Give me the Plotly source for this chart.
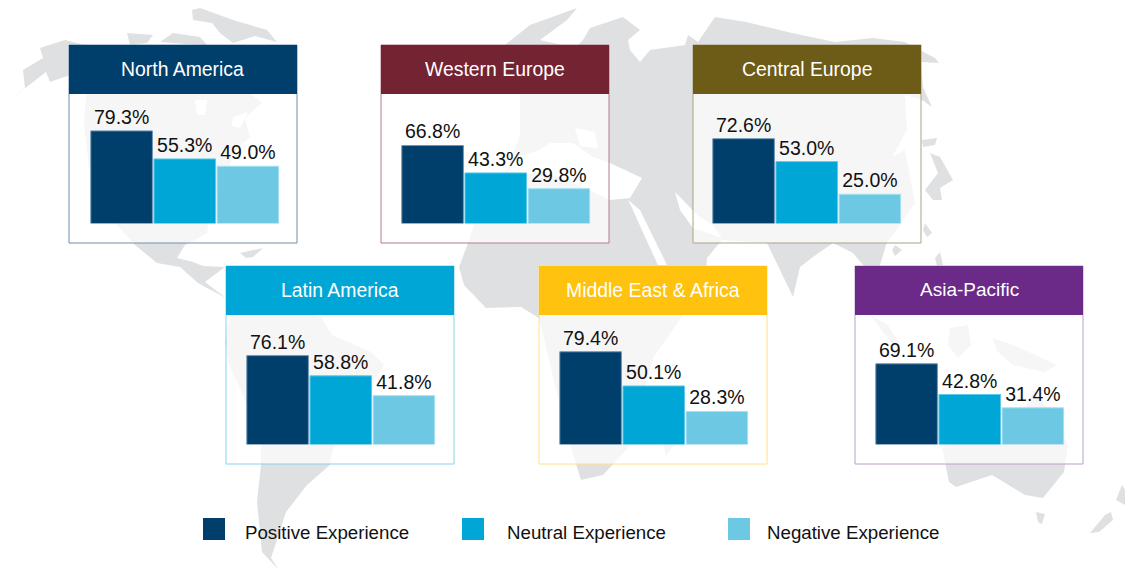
import plotly.graph_objects as go

# ---- chart data ----
regions = ["North America", "Western Europe", "Central Europe",
           "Latin America", "Middle East & Africa", "Asia-Pacific"]
series_names = ["Positive Experience", "Neutral Experience", "Negative Experience"]
positive = [79.3, 66.8, 72.6, 76.1, 79.4, 69.1]
neutral = [55.3, 43.3, 53.0, 58.8, 50.1, 42.8]
negative = [49.0, 29.8, 25.0, 41.8, 28.3, 31.4]

# ---- styling ----
W, H = 1125, 570
FONT = "Liberation Sans, Arial, Helvetica, sans-serif"
series_colors = ["#003E6B", "#00A7D6", "#6DC8E4"]
series_edges = ["#6F97B5", "#5FC8E8", "#A5E0F2"]
header_colors = ["#003E6B", "#732332", "#6D5B18", "#00A7D6", "#FFC20E", "#6B2A87"]
border_colors = ["#6F90B0", "#B07F8A", "#ABA383", "#85D3EB", "#FFE08A", "#B9A0CB"]
panel_left = [69, 381, 693, 226, 539, 855]
panel_top = [45, 45, 45, 266, 266, 266]
bar_offset = [21, 20, 19, 20, 20, 20]
PANEL_W, PANEL_H, HEAD_H = 228, 198, 49
MAP = "#DFE0E2"
SEA = "#FFFFFF"


def px(x):
    return x / W


def py(y):
    return 1 - y / H


def poly(points, color=MAP):
    d = "M " + " L ".join(f"{px(x):.5f},{py(y):.5f}" for x, y in points) + " Z"
    return dict(type="path", path=d, xref="paper", yref="paper", layer="below",
                fillcolor=color, line=dict(width=0))


# decorative world-map backdrop, traced in page pixels
north_america = [(10,100),(25,88),(23,70),(43,58),(40,48),(65,40),(85,45),(125,47),(160,50),(190,55),
    (215,75),(240,85),(262,103),(245,118),(250,137),(236,150),(225,175),(212,200),(207,233),(195,240),
    (185,245),(177,258),(193,262),(203,266),(225,267),(205,282),(226,298),(207,288),(198,283),(180,267),
    (157,263),(135,245),(115,223),(100,195),(89,167),(84,125),(86,95),(70,75),(50,82),(46,72)]
hudson_bay = [(195,100),(207,100),(205,115),(197,115)]
gulf_stlawrence = [(233,117),(248,112),(240,128),(232,126)]
arctic_a = [(127,33),(153,35),(147,43),(130,45)]
arctic_b = [(173,33),(200,37),(207,45),(185,44),(160,42)]
greenland = [(192,10),(200,8),(233,20),(267,30),(277,42),(255,36),(233,43),(220,33),(212,23),(193,20)]
cuba = [(240,253),(263,248),(253,257),(246,258)]
south_america = [(229,318),(225,342),(229,365),(243,395),(261,445),(261,465),(257,502),(262,552),(279,570),
    (271,558),(286,512),(307,485),(330,465),(332,452),(384,365),(371,352),(332,335),(321,317),(280,305),(245,300)]
afro_eurasia = [(468,243),(480,205),(505,175),(520,135),(520,90),(505,45),(530,25),(577,8),(567,20),(540,40),
    (575,48),(583,40),(590,28),(623,17),(640,30),(628,40),(630,50),(640,62),(650,50),(685,45),(688,35),
    (698,42),(715,17),(746,22),(792,33),(835,42),(873,38),(905,42),(935,58),(939,63),(921,62),(923,87),
    (932,107),(922,100),(905,95),(907,130),(892,157),(905,150),(915,203),(895,232),(887,242),(880,265),
    (885,290),(863,265),(853,253),(833,243),(813,257),(800,267),(793,297),(780,270),(767,243),(722,240),
    (707,258),(705,282),(683,315),(653,358),(628,448),(603,475),(581,480),(571,448),(555,385),(539,318),
    (521,307),(486,308),(464,285),(459,267)]
mediterranean = [(515,158),(540,150),(550,143),(573,143),(593,157),(610,163),(642,178),(630,198),(610,200),
                 (567,180),(540,172),(505,178)]
black_sea = [(575,128),(595,132),(598,148),(580,146)]
red_sea = [(628,200),(640,210),(667,265),(658,265),(645,237),(632,208)]
persian_gulf = [(675,192),(683,200),(697,215),(713,225),(722,238),(693,228),(680,210)]
britain = [(523,88),(532,90),(537,108),(524,114)]
hokkaido = [(922,140),(937,138),(935,145),(923,147)]
honshu = [(930,153),(940,157),(953,180),(940,188),(942,200),(933,200),(925,190),(938,173)]
taiwan = [(925,223),(932,233),(927,237),(923,230)]
hainan = [(895,245),(902,250),(895,256),(892,250)]
philippines = [(935,258),(940,252),(943,265),(937,266)]
sumatra = [(870,315),(888,325),(902,348),(893,345)]
borneo = [(950,328),(968,325),(971,345),(958,358),(948,345)]
new_guinea = [(992,338),(1013,345),(1057,365),(1044,372),(1013,365),(998,352)]
madagascar = [(662,440),(670,436),(672,448),(666,456)]
australia = [(942,448),(949,482),(956,487),(992,475),(1025,495),(1043,498),(1064,472),(1068,445),
             (1049,410),(1034,390),(1024,412),(992,412),(969,425)]
tasmania = [(1036,512),(1045,514),(1042,524),(1038,522)]
new_zealand_s = [(1090,533),(1105,515),(1111,512),(1113,520),(1099,532)]
new_zealand_n = [(1116,500),(1122,485),(1125,490),(1125,505)]

shapes = [poly(p) for p in (north_america, arctic_a, arctic_b, greenland, cuba, south_america,
                            afro_eurasia, britain, hokkaido, honshu, taiwan, hainan, philippines, sumatra,
                            borneo, new_guinea, madagascar, australia, tasmania, new_zealand_s, new_zealand_n)]
shapes += [poly(p, SEA) for p in (hudson_bay, gulf_stlawrence, mediterranean, black_sea, red_sea, persian_gulf)]

annotations = []
traces = []
layout_axes = {}
all_values = [positive, neutral, negative]

for i, region in enumerate(regions):
    left, top = panel_left[i], panel_top[i]
    shapes.append(dict(type="rect", xref="paper", yref="paper", layer="below",
                       x0=px(left), x1=px(left + PANEL_W), y0=py(top + PANEL_H), y1=py(top),
                       fillcolor="rgba(255,255,255,0.7)", line=dict(color=border_colors[i], width=1)))
    shapes.append(dict(type="rect", xref="paper", yref="paper", layer="below",
                       x0=px(left), x1=px(left + PANEL_W), y0=py(top + HEAD_H), y1=py(top),
                       fillcolor=header_colors[i], line=dict(width=0)))
    annotations.append(dict(text=region, x=px(left + PANEL_W / 2), y=py(top + 23.5), xref="paper", yref="paper",
                            xanchor="center", yanchor="middle", showarrow=False,
                            font=dict(family=FONT, size=19 if region == "Asia-Pacific" else 19.4, color="#FFFFFF")))
    suffix = "" if i == 0 else str(i + 1)
    baseline = top + 178.5
    bx = left + bar_offset[i]
    layout_axes[f"xaxis{suffix}"] = dict(domain=[px(bx), px(bx + 189.5)], anchor=f"y{suffix}",
                                         type="category", categoryorder="array", categoryarray=series_names,
                                         range=[-0.5, 2.5], visible=False, fixedrange=True)
    layout_axes[f"yaxis{suffix}"] = dict(domain=[py(baseline), py(top + HEAD_H)], anchor=f"x{suffix}",
                                         range=[0, 129.5 / 1.168], visible=False, fixedrange=True)
    for s, name in enumerate(series_names):
        traces.append(go.Bar(x=[name], y=[all_values[s][i]], name=name, legendgroup=name, showlegend=False,
                             xaxis=f"x{suffix}", yaxis=f"y{suffix}", width=0.975, offsetgroup="a",
                             marker=dict(color=series_colors[s], line=dict(color=series_edges[s], width=1)),
                             texttemplate="%{y:.1f}%", textposition="outside", textangle=0,
                             constraintext="none", cliponaxis=False,
                             textfont=dict(family=FONT, size=19.5, color="#111111")))

# legend row
legend_swatch = [203, 462, 728]
legend_text = [242.5, 504.5, 764.5]
for s, name in enumerate(series_names):
    shapes.append(dict(type="rect", xref="paper", yref="paper", layer="below",
                       x0=px(legend_swatch[s]), x1=px(legend_swatch[s] + 22), y0=py(540), y1=py(518),
                       fillcolor=series_colors[s], line=dict(width=0)))
    annotations.append(dict(text=name, x=px(legend_text[s]), y=py(532.5), xref="paper", yref="paper",
                            xanchor="left", yanchor="middle", showarrow=False,
                            font=dict(family=FONT, size=18.7, color="#111111")))

fig = go.Figure(traces)
fig.update_layout(width=W, height=H, margin=dict(l=0, r=0, t=0, b=0), autosize=False,
                  paper_bgcolor="#FFFFFF", plot_bgcolor="rgba(0,0,0,0)", showlegend=False,
                  barmode="overlay", shapes=shapes, annotations=annotations, **layout_axes)
fig.write_html("out.html", config=dict(displayModeBar=False),
               post_script="document.body.style.margin='0';")
